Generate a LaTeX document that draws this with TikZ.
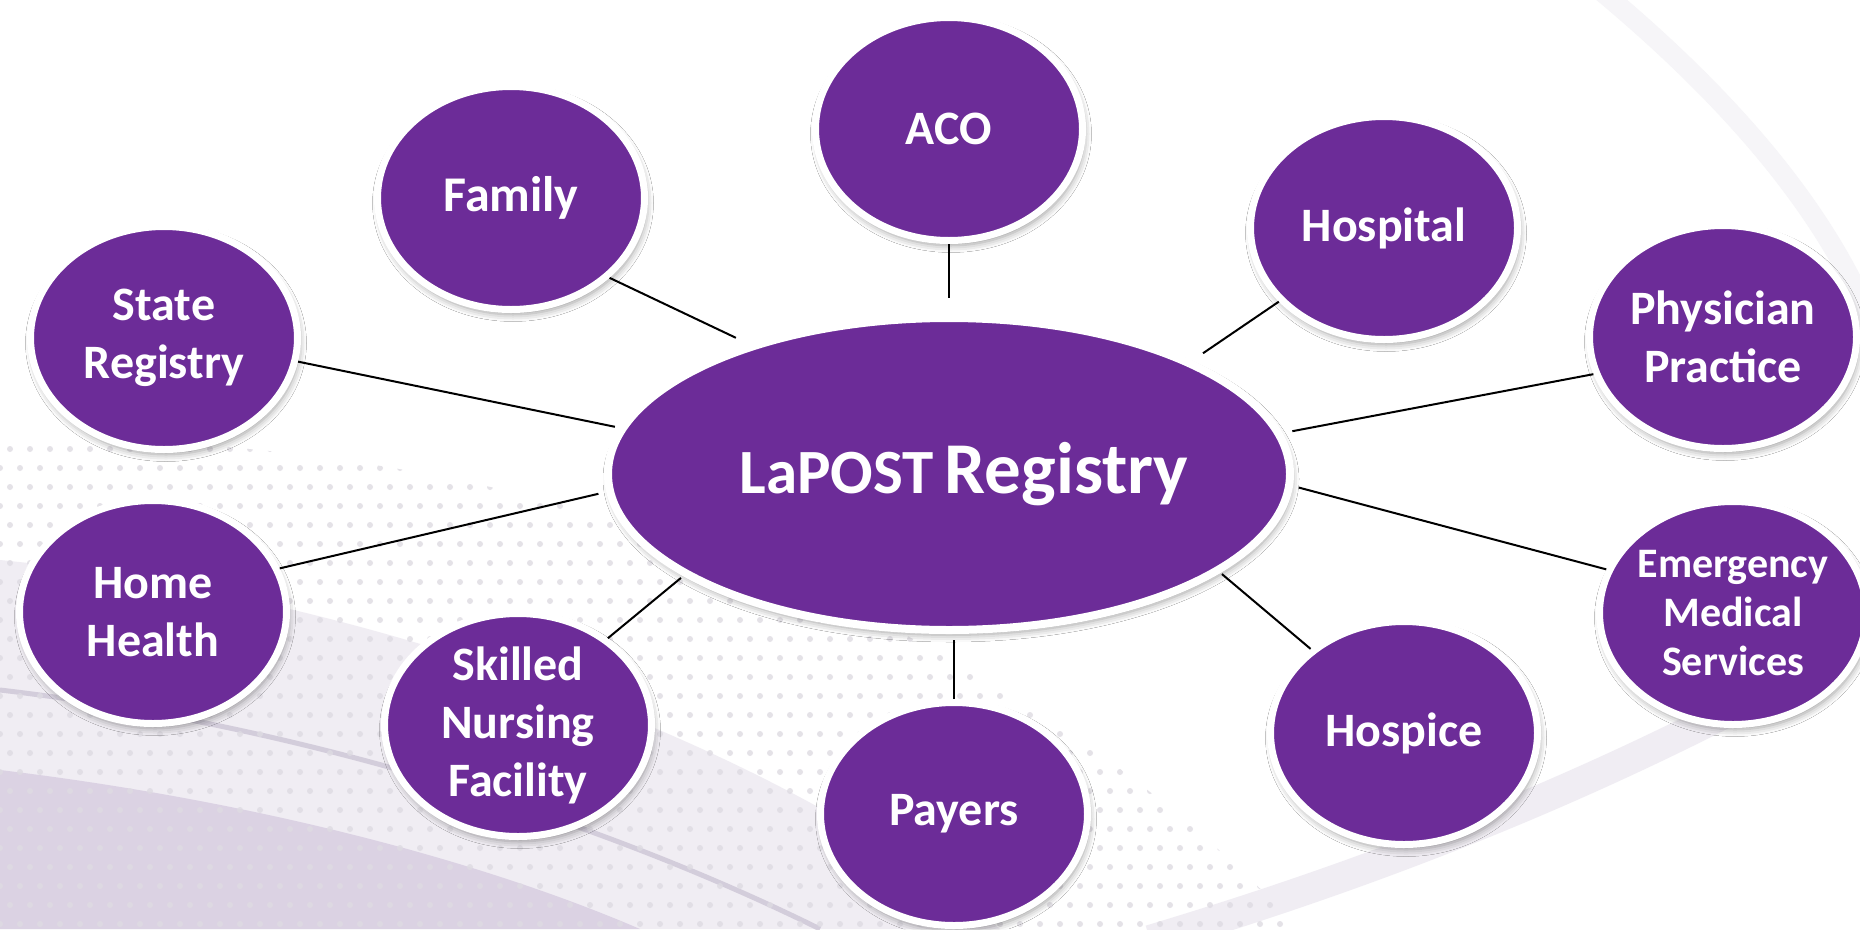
\documentclass[tikz,border=0pt]{standalone}
\usepackage{fontspec}
\setmainfont{Carlito}
\usetikzlibrary{shapes.geometric,shadows.blur}
\definecolor{lpurple}{RGB}{108,44,152}
\definecolor{bgA}{RGB}{240,237,243}
\definecolor{bgC}{RGB}{246,245,248}
\definecolor{bgB}{RGB}{214,204,224}
\definecolor{bgLine}{RGB}{200,192,210}
\definecolor{dotc}{RGB}{222,219,226}
\newcommand\bubfont{\fontsize{48}{58}\selectfont\bfseries}
\newcommand\emsfont{\fontsize{42}{49}\selectfont\bfseries}
\begin{document}
\begin{tikzpicture}[x=1pt,y=-1pt,
  bubble/.style={ellipse, draw=white, line width=7pt, fill=lpurple,
    minimum width=267pt, minimum height=223pt, inner sep=-30pt,
    text=white, align=center, font=\bubfont,
    blur shadow={shadow xshift=2pt, shadow yshift=-5pt, shadow blur radius=7pt, shadow opacity=40}},
  hub/.style={bubble, line width=8pt, minimum width=682pt, minimum height=312pt},
  link/.style={draw=black, line width=2pt}]
\useasboundingbox (0,0) rectangle (1860,929);
\fill[white] (0,0) rectangle (1860,929);
% background decoration
\begin{scope}
\clip (0,0) rectangle (1860,929);
\fill[bgA] (0,560) .. controls (400,600) and (800,760) .. (1000,929) -- (0,929) -- cycle;
\fill[bgB, opacity=0.8] (0,770) .. controls (250,800) and (480,860) .. (640,929) -- (0,929) -- cycle;
\draw[bgLine, line width=5pt, opacity=0.7] (0,690) .. controls (300,725) and (600,820) .. (820,929);
\draw[bgA, line width=30pt] (1860,640) .. controls (1600,790) and (1350,880) .. (1150,940);
\draw[bgC, line width=20pt] (1600,-10) .. controls (1720,90) and (1820,200) .. (1870,320);
\begin{scope}
\clip (0,440) .. controls (450,430) and (950,560) .. (1300,929) -- (0,929) -- cycle;
\foreach \i in {0,...,64} {
  \foreach \j in {0,...,26} {
    \fill[dotc, opacity=0.8] ({\i*20+mod(\j,2)*10}, {430+\j*19}) circle (3);
  }
}
\end{scope}
\end{scope}
% nodes
\node[hub] (reg) at (949,474) {\hspace*{30pt}{\fontsize{63}{70}\selectfont LaPOST} {\fontsize{73}{80}\selectfont Registry}};
\node[bubble] (aco) at (949,129) {ACO};
\node[bubble, font=\fontsize{50}{58}\selectfont\bfseries] (fam) at (511,198) {Family};
\node[bubble] (hos) at (1384,228) {Hospital};
\node[bubble] (sta) at (164,338) {State\\Registry};
\node[bubble] (phy) at (1723,337) {Physician\\Practice};
\node[bubble] (hom) at (153,612) {Home\\Health};
\node[bubble, font=\emsfont] (ems) at (1733,613) {Emergency\\Medical\\Services};
\node[bubble] (skl) at (518,725) {Skilled\\Nursing\\Facility};
\node[bubble] (hsp) at (1404,733) {Hospice};
\node[bubble] (pay) at (954,814) {Payers};
% connectors
\draw[link, shorten >=14pt] (fam.-39.8) -- (reg.147.9);
\draw[link, shorten >=16pt] (aco.south) -- (reg.north);
\draw[link, shorten >=13pt] (hos.-145.1) -- (reg.25.4);
\draw[link, shorten >=4pt] (sta.-10.6) -- (reg.172.4);
\draw[link, shorten >=10pt] (phy.-164.5) -- (reg.7.1);
\draw[link, shorten >=8pt] (hom.19.3) -- (reg.-177.9);
\draw[link, shorten >=6pt] (ems.161.7) -- (reg.-2.1);
\draw[link, shorten >=3pt] (skl.44.4) -- (reg.-159.4);
\draw[link, shorten >=2pt] (hsp.138.8) -- (reg.-20);
\draw[link, shorten >=6pt] (pay.north) -- (pay.north |- reg.south);
\end{tikzpicture}
\end{document}
